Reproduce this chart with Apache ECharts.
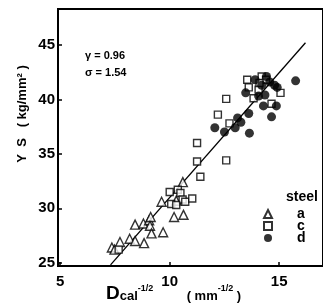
<!DOCTYPE html>
<html>
<head>
<meta charset="utf-8">
<script src="https://cdn.jsdelivr.net/npm/echarts@6/dist/echarts.min.js"></script>
<style>
  html, body { margin: 0; padding: 0; background: #fff; }
  #chart { width: 323px; height: 307px; }
</style>
</head>
<body>
<div id="chart"></div>
<script>
// steel a (triangles)
const steelA = [
  [7.36, 26.4], [7.48, 26.2], [7.73, 26.9], [8.17, 27.2], [8.42, 27.0],
  [8.83, 26.8], [8.42, 28.5], [8.8, 28.6], [9.06, 28.9], [9.13, 29.2],
  [9.1, 28.4], [9.17, 27.7], [9.7, 27.8], [9.63, 30.6], [10.2, 29.2],
  [10.63, 29.4], [10.6, 32.4], [10.3, 30.7]
];
// steel c (squares)
const steelC = [
  [7.67, 26.2], [10.0, 31.5], [10.37, 31.7], [10.49, 31.4], [10.07, 30.4],
  [10.59, 30.8], [10.3, 30.3], [10.71, 30.6], [11.03, 30.9], [11.25, 36.0],
  [11.25, 34.3], [11.4, 32.9], [12.2, 38.6], [12.58, 40.05], [12.58, 34.4],
  [12.73, 37.8], [13.54, 41.8], [13.61, 41.1], [13.83, 40.1], [14.2, 42.1],
  [14.06, 40.9], [14.4, 41.8], [14.65, 39.6], [15.06, 40.6], [14.1, 41.5]
];
// steel d (filled circles)
const steelD = [
  [12.06, 37.4], [12.5, 37.0], [12.99, 37.4], [13.1, 38.3], [13.25, 37.9],
  [13.47, 40.6], [13.61, 38.7], [13.64, 36.9], [13.9, 41.8], [14.06, 40.3],
  [14.2, 41.3], [14.28, 39.4], [14.35, 40.4], [14.42, 42.1], [14.57, 41.6],
  [14.65, 38.4], [14.79, 41.3], [14.87, 39.4], [14.91, 41.1], [15.75, 41.7]
];
// regression line
const fitLine = [[7.3, 24.8], [16.2, 45.2]];
const xTicks = [5, 10, 15];
const yTicks = [25, 30, 35, 40, 45];

const font = '"Liberation Sans", Arial, sans-serif';
const chart = echarts.init(document.getElementById('chart'));

chart.setOption({
  animation: false,
  backgroundColor: '#fff',
  grid: {
    left: 58, top: 9, right: -9, bottom: 41,
    show: true, borderColor: '#000', borderWidth: 2
  },
  xAxis: {
    type: 'value', min: 4.9, max: 17,
    axisLine: { lineStyle: { color: '#000', width: 2 } },
    axisTick: { inside: true, length: 4, customValues: xTicks, lineStyle: { color: '#000', width: 1.5 } },
    axisLabel: { customValues: xTicks, color: '#000', fontFamily: font, fontWeight: 'bold', fontSize: 15, margin: 8 },
    splitLine: { show: false }
  },
  yAxis: {
    type: 'value', min: 24.7, max: 48.3,
    axisLine: { lineStyle: { color: '#000', width: 2 } },
    axisTick: { inside: true, length: 4, customValues: yTicks, lineStyle: { color: '#000', width: 1.5 } },
    axisLabel: { customValues: yTicks, color: '#000', fontFamily: font, fontWeight: 'bold', fontSize: 15, margin: 3 },
    splitLine: { show: false }
  },
  legend: {
    orient: 'vertical', left: 263, top: 207, itemGap: -2,
    itemWidth: 8, itemHeight: 8, padding: 0,
    textStyle: { color: '#000', fontFamily: font, fontWeight: 'bold', fontSize: 14, padding: [0, 0, 0, 20] },
    data: ['a', 'c', 'd']
  },
  series: [
    {
      name: 'fit', type: 'line', data: fitLine, showSymbol: false,
      lineStyle: { color: '#000', width: 1.3 }, silent: true, z: 1
    },
    {
      name: 'a', type: 'scatter', data: steelA, symbol: 'triangle', symbolSize: 9,
      itemStyle: { color: '#fff', borderColor: '#000', borderWidth: 1.4 }
    },
    {
      name: 'c', type: 'scatter', data: steelC, symbol: 'rect', symbolSize: 7,
      itemStyle: { color: '#fff', borderColor: '#000', borderWidth: 1.4 }
    },
    {
      name: 'd', type: 'scatter', data: steelD, symbol: 'circle', symbolSize: 9,
      itemStyle: { color: '#000' }
    }
  ],
  graphic: [
    { type: 'text', left: 85, top: 50, style: { text: 'γ = 0.96', fill: '#000', font: 'bold 11px ' + font } },
    { type: 'text', left: 85, top: 67, style: { text: 'σ = 1.54', fill: '#000', font: 'bold 11px ' + font } },
    { type: 'text', left: 286, top: 190, style: { text: 'steel', fill: '#000', font: 'bold 14px ' + font } },
    {
      type: 'text', x: 22, y: 114, rotation: Math.PI / 2,
      style: { text: 'Y  S   ( kg/mm² )', fill: '#000', font: 'bold 13px ' + font, align: 'center', verticalAlign: 'middle' }
    },
    {
      type: 'text', left: 106, top: 284,
      style: {
        text: '{d|D}{s|cal}{p|-1/2}          {u|( mm}{p|-1/2}{u| )}',
        rich: {
          d: { fill: '#000', font: 'bold 19px ' + font },
          s: { fill: '#000', font: 'bold 13px ' + font, verticalAlign: 'bottom' },
          p: { fill: '#000', font: 'bold 9px ' + font, verticalAlign: 'top' },
          u: { fill: '#000', font: 'bold 13px ' + font, verticalAlign: 'bottom' }
        }
      }
    }
  ]
});
</script>
</body>
</html>
